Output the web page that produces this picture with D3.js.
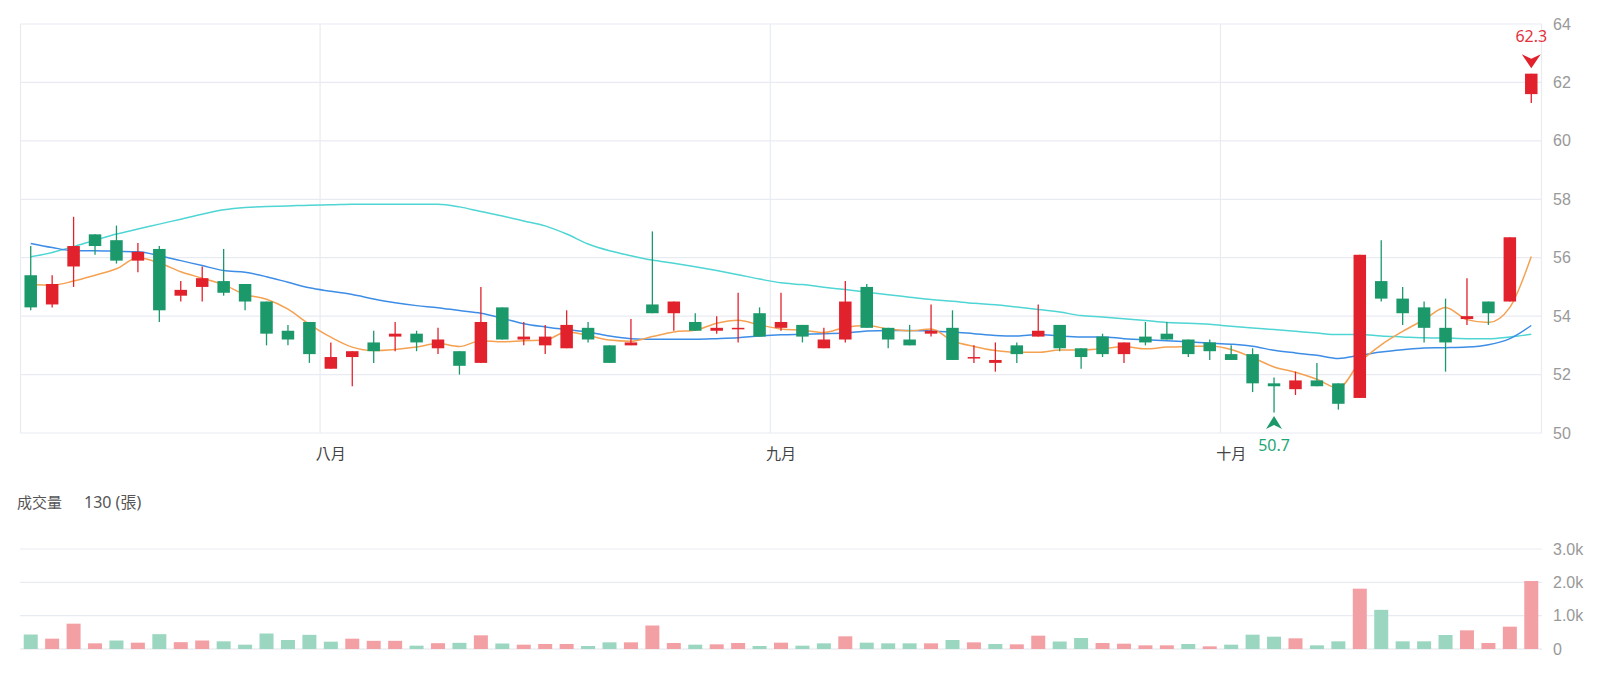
<!DOCTYPE html>
<html><head><meta charset="utf-8">
<script src="https://cdn.jsdelivr.net/npm/d3@7"></script>
<style>
html,body{margin:0;padding:0;background:#fff;}
svg{display:block;font-family:"Noto Sans","Noto Sans CJK TC",sans-serif;}
</style></head>
<body><svg id="chart" width="1599" height="675"></svg>
<script>
// ---------------- data ----------------
const opens  = [55.4,54.4,55.7,56.8,56.6,55.9,56.3,54.7,55.0,55.2,55.1,54.5,53.5,53.8,52.2,52.6,53.1,53.3,53.4,52.9,
                52.8,52.4,54.3,53.2,53.0,52.9,53.6,53.0,53.0,54.4,54.1,53.8,53.5,53.6,54.1,53.6,53.7,52.9,53.2,55.0,
                53.6,53.2,53.4,53.6,52.6,52.4,53.0,53.3,53.7,52.9,53.3,52.7,53.3,53.4,53.2,53.1,52.7,52.7,51.7,51.5,
                51.8,51.7,51.2,55.2,54.6,54.3,53.6,53.9,54.5,54.5,61.6];
const highs  = [56.4,55.4,57.4,56.8,57.1,56.5,56.4,55.2,55.7,56.3,55.1,54.5,53.7,53.8,53.1,52.8,53.5,53.8,53.5,53.6,
                52.8,55.0,54.3,53.8,53.7,54.2,53.8,53.0,53.9,56.9,54.5,54.1,54.0,54.8,54.3,54.8,53.7,53.6,55.2,55.1,
                53.6,53.7,54.4,54.2,53.0,53.1,53.1,54.4,53.7,52.9,53.4,53.1,53.8,53.8,53.2,53.2,53.0,52.9,51.9,52.1,
                52.4,51.7,56.1,56.6,55.0,54.5,54.6,55.3,54.5,56.7,62.3];
const lows   = [54.2,54.3,55.0,56.1,55.8,55.5,53.8,54.5,54.5,54.7,54.2,53.0,53.0,52.4,52.2,51.6,52.4,52.8,52.8,52.7,
                52.0,52.4,53.2,53.0,52.7,52.9,53.1,52.4,53.0,54.1,53.5,53.5,53.4,53.1,53.3,53.5,53.1,52.9,53.1,53.6,
                52.9,53.0,53.3,52.5,52.4,52.1,52.4,53.3,52.8,52.2,52.6,52.4,53.0,53.2,52.6,52.5,52.5,51.4,50.7,51.3,
                51.6,50.8,51.2,54.5,53.7,53.1,52.1,53.7,53.7,54.5,61.3];
const closes = [54.3,55.1,56.4,56.4,55.9,56.2,54.2,54.9,55.3,54.8,54.5,53.4,53.2,52.7,52.6,52.8,52.8,53.4,53.1,53.2,
                52.3,53.8,53.2,53.3,53.3,53.7,53.2,52.4,53.1,54.1,54.5,53.5,53.6,53.6,53.3,53.8,53.3,53.2,54.5,53.6,
                53.2,53.0,53.5,52.5,52.6,52.5,52.7,53.5,52.9,52.6,52.7,53.1,53.1,53.2,52.7,52.8,52.5,51.7,51.6,51.8,
                51.6,51.0,56.1,54.6,54.1,53.6,53.1,54.0,54.1,56.7,62.3];
// closes of the four trading days before the first candle (for the 5-day average)
const priorCloses = [55.2,55.7,55.4,54.8];
const volumes = [435,310,760,170,255,190,445,205,255,230,130,465,270,425,220,310,245,245,100,175,
                 185,410,165,130,150,150,90,200,200,705,180,130,140,180,90,190,100,170,380,190,
                 170,170,170,270,200,150,140,400,225,330,180,160,110,110,150,80,130,430,370,320,
                 110,230,1810,1175,230,230,420,560,180,670,2040];
const ma20 = [56.49,56.35,56.24,56.24,56.22,56.20,56.07,55.90,55.73,55.56,55.50,55.35,55.16,54.97,54.85,54.74,54.59,54.46,54.36,54.29,
              54.19,54.10,53.93,53.74,53.63,53.54,53.46,53.32,53.23,53.21,53.21,53.21,53.23,53.26,53.32,53.36,53.38,53.40,53.42,53.49,
              53.51,53.51,53.49,53.46,53.40,53.34,53.32,53.37,53.32,53.29,53.29,53.23,53.19,53.16,53.12,53.08,53.04,52.97,52.83,52.74,
              52.66,52.55,52.66,52.77,52.85,52.91,52.92,52.94,53.02,53.23,53.68];
const ma60 = [56.03,56.18,56.38,56.60,56.81,56.98,57.15,57.32,57.49,57.64,57.72,57.75,57.77,57.80,57.81,57.83,57.83,57.83,57.83,57.83,
              57.74,57.58,57.43,57.26,57.09,56.81,56.47,56.24,56.07,55.92,55.81,55.69,55.56,55.42,55.27,55.14,55.08,54.99,54.91,54.82,
              54.73,54.65,54.57,54.51,54.44,54.39,54.31,54.23,54.14,54.02,53.97,53.91,53.85,53.78,53.76,53.72,53.65,53.59,53.54,53.48,
              53.42,53.37,53.37,53.32,53.29,53.26,53.25,53.23,53.23,53.29,53.38];
const monthLabels = ["八月","九月","十月"];
const monthStartIdx = [14,35,56];
const priceTicks = [50,52,54,56,58,60,62,64];
const volTicks = [0,1000,2000,3000];
const volTickLabels = ["0","1.0k","2.0k","3.0k"];
const volumeTitle = "成交量";
const volumeValueText = "130 (張)";

// ---------------- layout ----------------
const svg = d3.select("#chart");
const L = 20, R = 1542;
const pTop = 24, pBot = 433;
const vTop = 549, vBot = 649;
const UP = "#e1222d", DOWN = "#1b996b";
const VUP = "#f3a0a5", VDOWN = "#9bd7c0";
const GRID = "#e9ebf3";

const idx = d3.range(closes.length);
const x = d3.scaleBand().domain(idx).range([L, R]).padding(0);
const bw = x.bandwidth();
const cx = i => x(i) + bw / 2;
const y = d3.scaleLinear().domain([50, 64]).range([pBot, pTop]);
const yv = d3.scaleLinear().domain([0, 3000]).range([vBot, vTop]);

// price grid
svg.append("g").selectAll("line").data(priceTicks).join("line")
  .attr("x1", L).attr("x2", R).attr("y1", d => y(d)).attr("y2", d => y(d))
  .attr("stroke", GRID).attr("stroke-width", 1.2);
svg.append("line").attr("x1", L + 0.5).attr("x2", L + 0.5).attr("y1", pTop).attr("y2", pBot).attr("stroke", GRID).attr("stroke-width", 1.2);
svg.append("line").attr("x1", R - 0.5).attr("x2", R - 0.5).attr("y1", pTop).attr("y2", pBot).attr("stroke", GRID).attr("stroke-width", 1.2);
svg.append("g").selectAll("line").data(monthStartIdx).join("line")
  .attr("x1", d => x(d)).attr("x2", d => x(d)).attr("y1", pTop).attr("y2", pBot)
  .attr("stroke", GRID).attr("stroke-width", 1.2);

// price axis labels
const yAxis = svg.append("g").attr("transform", `translate(${R},0)`)
  .call(d3.axisRight(y).tickValues(priceTicks).tickSize(0).tickPadding(11).tickFormat(d3.format("d")));
yAxis.select(".domain").remove();
yAxis.selectAll("text").attr("fill", "#999").style("font-size", "16px");

// month axis
const xAxis = svg.append("g").attr("transform", `translate(0,${pBot})`)
  .call(d3.axisBottom(x).tickValues(monthStartIdx).tickSize(0).tickPadding(15)
        .tickFormat(d => monthLabels[monthStartIdx.indexOf(d)]));
xAxis.select(".domain").remove();
xAxis.selectAll("text").attr("fill", "#444").style("font-size", "15px")
  .style("font-family", "'Noto Sans CJK TC',sans-serif");

// moving averages
const allCloses = priorCloses.concat(closes);
const ma5 = idx.map(i => d3.mean(allCloses.slice(i, i + 5)));
const line = d3.line().x((d, i) => cx(i)).y(d => y(d)).curve(d3.curveMonotoneX);
svg.append("path").datum(ma60).attr("d", line).attr("fill", "none").attr("stroke", "#4fd5d3").attr("stroke-width", 1.5);
svg.append("path").datum(ma20).attr("d", line).attr("fill", "none").attr("stroke", "#3d8de6").attr("stroke-width", 1.5);
svg.append("path").datum(ma5).attr("d", line).attr("fill", "none").attr("stroke", "#f5a152").attr("stroke-width", 1.5);

// candles
const cw = 12.5;
const cg = svg.append("g").selectAll("g").data(idx).join("g");
cg.append("line")
  .attr("x1", i => cx(i)).attr("x2", i => cx(i))
  .attr("y1", i => y(highs[i])).attr("y2", i => y(lows[i]))
  .attr("stroke", i => closes[i] >= opens[i] ? UP : DOWN).attr("stroke-width", 1.3);
cg.append("rect")
  .attr("x", i => cx(i) - cw / 2).attr("width", cw)
  .attr("y", i => y(Math.max(opens[i], closes[i])))
  .attr("height", i => Math.max(1.5, Math.abs(y(opens[i]) - y(closes[i]))))
  .attr("fill", i => closes[i] >= opens[i] ? UP : DOWN);

// max / min markers
const iMax = d3.maxIndex(highs), iMin = d3.minIndex(lows);
{
  const c = cx(iMax), tip = y(highs[iMax]) - 5.5, top = tip - 14;
  svg.append("path").attr("d", `M${c-9.5},${top} L${c},${top+4.5} L${c+9.5},${top} L${c},${tip} Z`).attr("fill", UP);
  svg.append("text").attr("x", c).attr("y", top - 16).attr("text-anchor", "middle").attr("dominant-baseline", "middle")
    .attr("fill", "#e5323e").style("font-size", "16px").text(highs[iMax].toFixed(1));
}
{
  const c = cx(iMin), tip = y(lows[iMin]) + 3.5, base = tip + 13;
  svg.append("path").attr("d", `M${c-8},${base} L${c},${base-4} L${c+8},${base} L${c},${tip} Z`).attr("fill", DOWN);
  svg.append("text").attr("x", c).attr("y", base + 18).attr("text-anchor", "middle").attr("dominant-baseline", "middle")
    .attr("fill", "#1fa676").style("font-size", "16px").text(lows[iMin].toFixed(1));
}

// volume title
svg.append("text").attr("x", 17).attr("y", 504).attr("dominant-baseline", "middle")
  .attr("fill", "#555").style("font-size", "15px")
  .style("font-family", "'Noto Sans CJK TC',sans-serif").text(volumeTitle);
svg.append("text").attr("x", 84).attr("y", 504).attr("dominant-baseline", "middle")
  .attr("fill", "#555").style("font-size", "16px")
  .style("font-family", "'Noto Sans','Noto Sans CJK TC',sans-serif").text(volumeValueText);

// volume grid
svg.append("g").selectAll("line").data(volTicks).join("line")
  .attr("x1", L).attr("x2", R).attr("y1", d => yv(d)).attr("y2", d => yv(d))
  .attr("stroke", d => d === 0 ? "#e2e4ec" : GRID).attr("stroke-width", 1.2);
const vAxis = svg.append("g").attr("transform", `translate(${R},0)`)
  .call(d3.axisRight(yv).tickValues(volTicks).tickSize(0).tickPadding(11)
        .tickFormat(d => volTickLabels[volTicks.indexOf(d)]));
vAxis.select(".domain").remove();
vAxis.selectAll("text").attr("fill", "#999").style("font-size", "16px");

// volume bars: coloured by change against previous close
const vw = 14;
svg.append("g").selectAll("rect").data(idx).join("rect")
  .attr("x", i => cx(i) - vw / 2).attr("width", vw)
  .attr("y", i => yv(volumes[i])).attr("height", i => yv(0) - yv(volumes[i]))
  .attr("fill", i => closes[i] >= allCloses[i + 3] ? VUP : VDOWN);
</script></body></html>
